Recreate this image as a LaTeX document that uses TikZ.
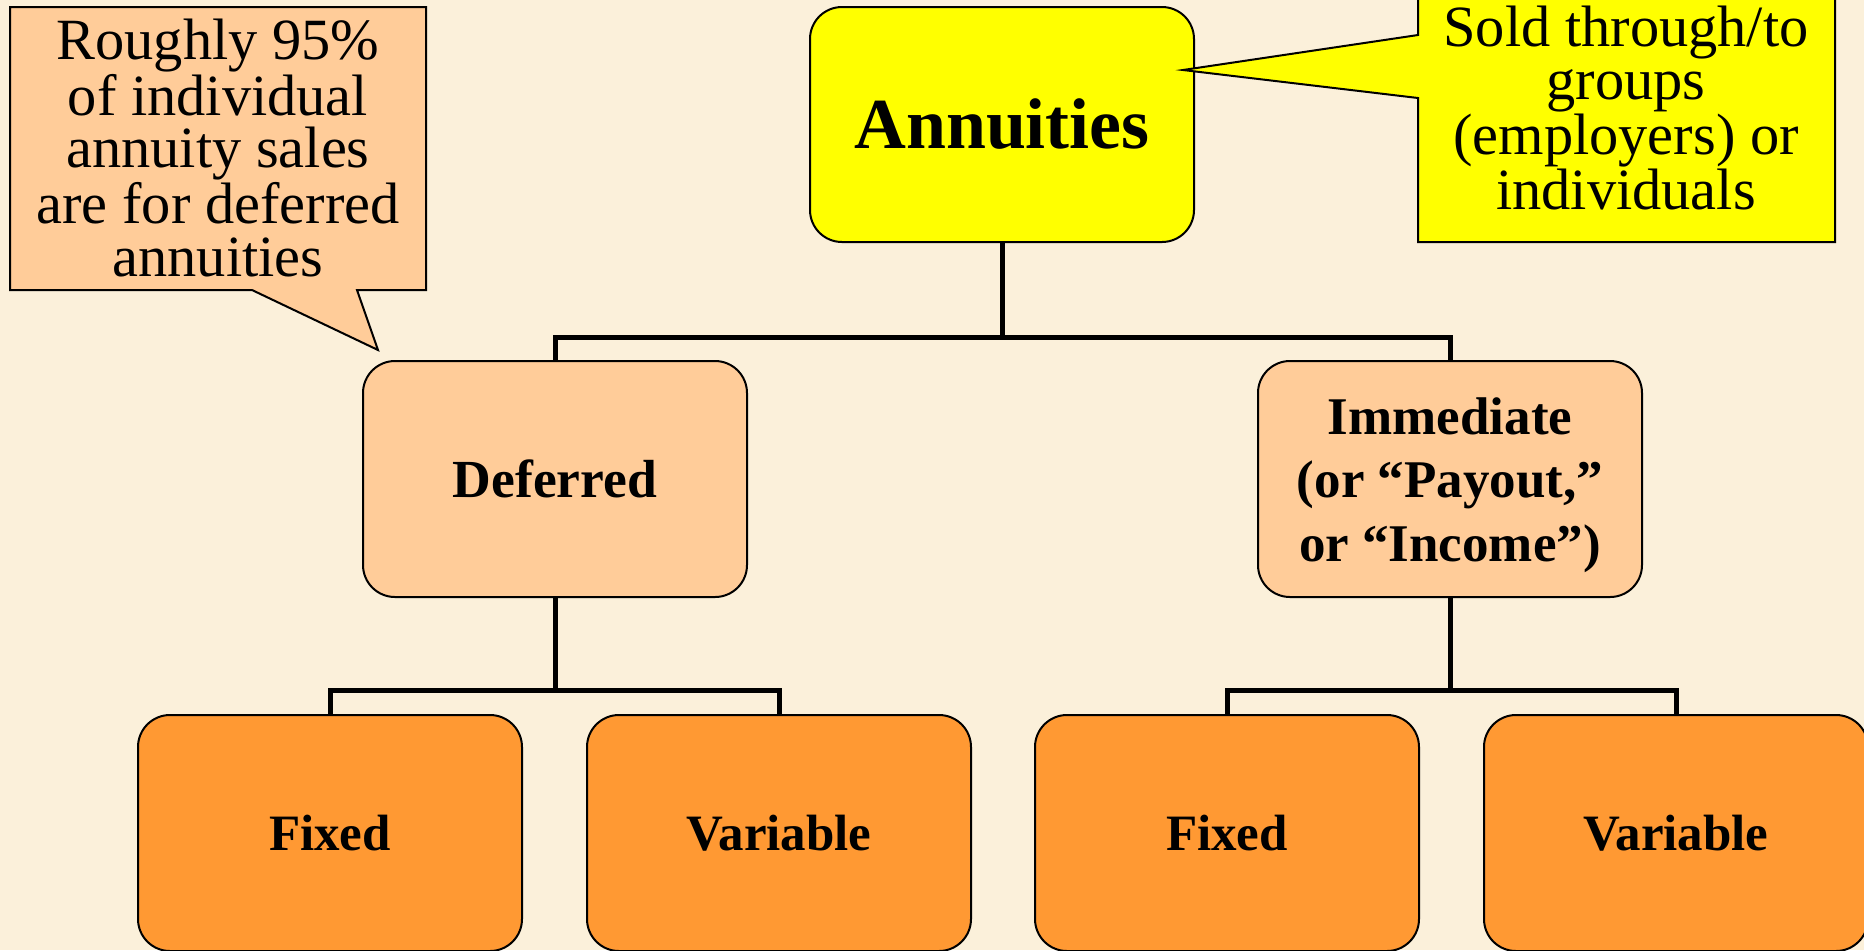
\documentclass[tikz,border=0pt]{standalone}
\usepackage{fontspec}
\setmainfont{Liberation Serif}
\definecolor{bgc}{HTML}{FBF0DA}
\definecolor{yel}{HTML}{FFFF00}
\definecolor{peach}{HTML}{FFCC99}
\definecolor{orng}{HTML}{FF9933}
\begin{document}
\begin{tikzpicture}[x=0.5pt,y=-0.5pt,
  box/.style={draw=black, line width=1pt, rounded corners=16pt,
    minimum width=192pt, minimum height=118pt, inner sep=0pt, align=center},
  topbox/.style={box, fill=yel, minimum height=117.5pt,
    font=\fontsize{35.9}{40}\selectfont\bfseries},
  midbox/.style={box, fill=peach},
  lowbox/.style={box, fill=orng, font=\fontsize{25.5}{30}\selectfont\bfseries},
  conn/.style={draw=black, line width=2.5pt},
  callout/.style={draw=black, line width=1pt, line join=miter},
  calltext/.style={align=center, inner sep=0pt,
    font=\fontsize{29.2}{26.3}\selectfont}]
\useasboundingbox (0,0) rectangle (1864,950);
\fill[bgc] (0,0) rectangle (1864,950);

% nodes
\node[topbox] (ann) at (1002,124.5) {Annuities};
\node[midbox, font=\fontsize{26.8}{30}\selectfont\bfseries] (def) at (555,479) {Deferred};
\node[midbox] (imm) at (1450,479) {};
\node[align=center, inner sep=0pt, font=\fontsize{26.5}{31.8}\selectfont\bfseries]
  (immt) at (1450,485) {Immediate\\(or “Payout,”\\or “Income”)};
\node[lowbox] (f1) at (330,833) {Fixed};
\node[lowbox] (v1) at (779,833) {Variable};
\node[lowbox] (f2) at (1227,833) {Fixed};
\node[lowbox] (v2) at (1676,833) {Variable};

% connectors
\coordinate (bar0) at (0,337);
\coordinate (bar1) at (0,690);
\draw[conn] (ann.south) -- (ann.south |- bar0) -| (def.north);
\draw[conn] (ann.south |- bar0) -| (imm.north);
\draw[conn] (def.south) -- (def.south |- bar1) -| (f1.north);
\draw[conn] (def.south |- bar1) -| (v1.north);
\draw[conn] (imm.south) -- (imm.south |- bar1) -| (f2.north);
\draw[conn] (imm.south |- bar1) -| (v2.north);

% left callout
\filldraw[callout, fill=peach] (10,7) -- (426,7) -- (426,290) -- (357,290)
  -- (378,350) -- (252,290) -- (10,290) -- cycle;
\node[calltext] (lc) at (218,148)
  {Roughly 95\%\\of individual\\annuity sales\\are for deferred\\annuities};

% right callout
\filldraw[callout, fill=yel] (1418,-10) -- (1835,-10) -- (1835,242) -- (1418,242)
  -- (1418,98) -- (1183,70) -- (1418,35) -- cycle;
\node[calltext] (rc) at (1626,108)
  {Sold through/to\\groups\\(employers) or\\individuals};
\end{tikzpicture}
\end{document}
